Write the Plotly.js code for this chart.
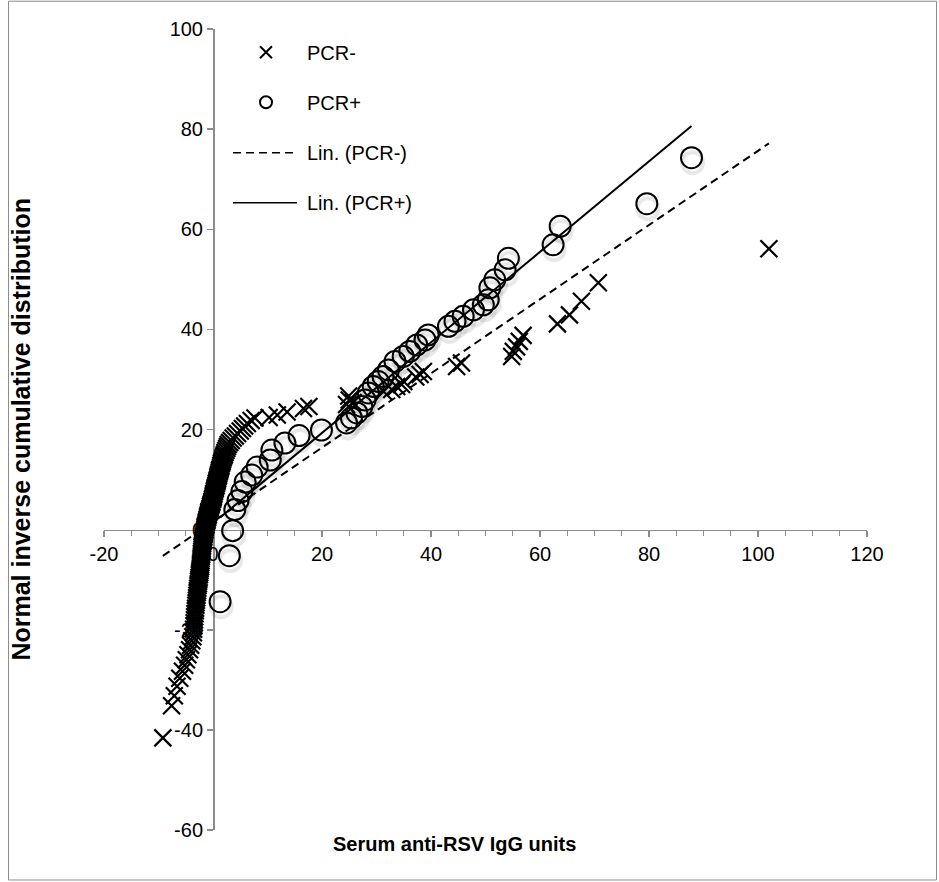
<!DOCTYPE html>
<html>
<head>
<meta charset="utf-8">
<script src="https://cdn.plot.ly/plotly-3.0.1.min.js"></script>
<style>
  html, body { margin: 0; padding: 0; background: #fff; }
  #chart { width: 939px; height: 882px; }
</style>
</head>
<body>
<div id="chart"></div>
<script>
// ---------- data ----------
const seriesNames = ["PCR-", "PCR+", "Lin. (PCR-)", "Lin. (PCR+)"];

const negX = [
  -9.2, -7.6, -7.1, -6.6, -6.1, -5.6, -5.2, -4.9, -4.6, -4.3, -4.1, -3.9, -3.7, -3.6,
  -3.55, -3.5, -3.45, -3.4, -3.35, -3.3, -3.25, -3.2, -3.15, -3.1, -3.05, -3.0, -2.95, -2.9,
  -2.85, -2.8, -2.75, -2.7, -2.65, -2.6, -2.55, -2.5, -2.45, -2.4, -2.35, -2.3, -2.3, -2.25,
  -2.2, -2.2, -2.15, -2.1, -2.1, -2.05, -2.0, -2.0, -1.95, -1.9, -1.85, -1.8, -1.75, -1.7,
  -1.65, -1.6, -1.55, -1.5, -1.45, -1.4, -1.3, -1.25, -1.15, -1.1, -1.0, -0.95, -0.85, -0.8,
  -0.7, -0.6, -0.5, -0.45, -0.35, -0.25, -0.2, -0.1, 0.0, 0.05, 0.1, 0.15, 0.25, 0.3,
  0.4, 0.45, 0.55, 0.6, 0.7, 0.75, 0.85, 0.9, 1.0, 1.05, 1.15, 1.2, 1.3, 1.4,
  1.45, 1.55, 1.65, 1.75, 1.85, 2.0, 2.1, 2.2, 2.35, 2.5, 2.65, 2.8, 3.05, 3.35,
  3.7, 4.1, 4.5, 5.0, 5.4, 5.8, 6.3, 7.0, 7.7,
  10.3, 11.8, 13.6, 16.6, 17.6,
  24.5, 25.0, 25.7, 24.9,
  31.3, 32.8, 33.7, 34.6, 35.0, 37.2, 38.0, 38.6,
  44.7, 45.6,
  54.8, 55.1, 55.7, 56.2, 56.9,
  63.2, 65.4, 67.6, 70.7,
  102.0
];
const negY = [
  -41.6, -35.2, -33.2, -31.3, -29.7, -28.3, -27.1, -26.0, -25.0, -24.0, -23.1, -22.2, -21.4, -20.6,
  -19.9, -19.2, -18.6, -18.0, -17.4, -16.8, -16.2, -15.7, -15.1, -14.6, -14.1, -13.6, -13.1, -12.6,
  -12.2, -11.7, -11.2, -10.8, -10.3, -9.9, -9.5, -9.0, -8.6, -8.2, -7.8, -7.4, -7.0, -6.6,
  -6.2, -5.8, -5.4, -5.0, -4.7, -4.3, -3.9, -3.5, -3.2, -2.8, -2.4, -2.1, -1.7, -1.4,
  -1.0, -0.7, -0.3, 0.0, 0.4, 0.7, 1.0, 1.4, 1.7, 2.0, 2.4, 2.7, 3.0, 3.4,
  3.7, 4.0, 4.3, 4.7, 5.0, 5.3, 5.6, 6.0, 6.3, 6.6, 6.9, 7.2, 7.6, 7.9,
  8.2, 8.5, 8.8, 9.2, 9.5, 9.8, 10.1, 10.5, 10.8, 11.1, 11.5, 11.8, 12.1, 12.5,
  12.8, 13.2, 13.5, 13.9, 14.3, 14.7, 15.0, 15.4, 15.8, 16.2, 16.6, 17.0, 17.4, 17.8,
  18.3, 18.7, 19.2, 19.7, 20.2, 20.7, 21.2, 21.8, 22.3,
  22.4, 22.9, 23.5, 24.2, 24.6,
  25.0, 25.9, 25.4, 26.7,
  27.6, 28.0, 28.6, 29.0, 29.6, 30.5, 31.0, 31.6,
  32.6, 33.3,
  34.6, 35.6, 36.5, 37.6, 38.8,
  41.1, 42.9, 45.6, 49.3,
  56.1
];

const posX = [1.3, 3.0, 3.6, 4.0, 4.6, 5.3, 5.9, 7.1, 8.1, 10.5, 10.8, 13.2, 15.8, 19.9,
  24.5, 25.4, 26.4, 27.3, 27.9, 28.5, 29.4, 30.3, 31.2, 32.2, 33.4, 34.9, 36.1, 37.4,
  38.9, 39.5, 43.2, 44.4, 45.9, 47.8, 49.6, 50.5, 50.8, 51.7, 53.6, 54.2, 62.4, 63.7,
  79.6, 87.8];
const posY = [-14.4, -5.2, -0.2, 4.0, 5.8, 7.6, 9.5, 10.9, 12.5, 13.9, 15.9, 17.3, 18.8, 19.9,
  21.3, 22.3, 23.3, 24.6, 25.9, 27.3, 28.6, 29.6, 30.6, 31.9, 33.6, 34.6, 35.6, 36.9,
  37.9, 38.9, 40.6, 41.6, 42.6, 43.9, 44.9, 45.9, 48.3, 49.9, 51.9, 54.2, 56.9, 60.6,
  65.1, 74.3];

// linear trendline coefficients (slope, intercept)
const trendNeg = [0.741, 1.57];
const trendPos = [0.904, 1.24];

const xTickVals = [-20, 0, 20, 40, 60, 80, 100, 120];
const xTickText = ["-20", "0", "20", "40", "60", "80", "100", "120"];
const yTickVals = [-60, -40, -20, 0, 20, 40, 60, 80, 100];
const yTickText = ["-60", "-40", "-20", "0", "20", "40", "60", "80", "100"];

// trendline over each series' x-range
function trendLine(xs, coef) {
  const x0 = Math.min(...xs), x1 = Math.max(...xs);
  return { x: [x0, x1], y: [coef[1] + coef[0] * x0, coef[1] + coef[0] * x1] };
}
const fitNeg = trendLine(negX, trendNeg);
const fitPos = trendLine(posX, trendPos);

// ---------- geometry ----------
const W = 939, H = 882;
const M = { l: 104, r: 72, t: 29.3, b: 51.5 };
const PW = W - M.l - M.r, PH = H - M.t - M.b;
const px2x = px => (px - M.l) / PW;
const py2y = py => 1 - (py - M.t) / PH;
const xRange = [-20, 120], yRange = [-60, 100];

const FONT = "Liberation Sans, Arial, sans-serif";
const AXC = "#8c8c8c";

// soft drop shadow under the open circles (style effect of the original)
const shadowDX = 0.2, shadowDY = -1.0;
const SHADOW = "rgba(0,0,0,0.09)";

const traces = [
  { x: posX.map(v => v + shadowDX), y: posY.map(v => v + shadowDY), type: "scatter", mode: "markers",
    showlegend: false, hoverinfo: "skip",
    marker: { symbol: "circle-open", size: 21, color: SHADOW, line: { color: SHADOW, width: 4 } } },
  { x: negX, y: negY, name: seriesNames[0], type: "scatter", mode: "markers", legendgroup: "a",
    marker: { symbol: "x-thin-open", size: 17, line: { color: "#000", width: 2.2 }, color: "#000" } },
  { x: posX, y: posY, name: seriesNames[1], type: "scatter", mode: "markers", legendgroup: "b",
    marker: { symbol: "circle-open", size: 21, line: { color: "#000", width: 2 }, color: "#000" } },
  { x: fitNeg.x, y: fitNeg.y, name: seriesNames[2], type: "scatter", mode: "lines", legendgroup: "c",
    line: { color: "#000", width: 2, dash: "8px,5px" } },
  { x: fitPos.x, y: fitPos.y, name: seriesNames[3], type: "scatter", mode: "lines", legendgroup: "d",
    line: { color: "#000", width: 2 } }
];

const axisCommon = {
  showline: true, linecolor: AXC, linewidth: 1.5,
  ticks: "outside", ticklen: 6, tickwidth: 1.5, tickcolor: AXC,
  showgrid: false, zeroline: false,
  tickfont: { family: FONT, size: 20, color: "#000" },
  layer: "below traces", anchor: "free", fixedrange: true
};

const layout = {
  width: W, height: H,
  margin: M,
  paper_bgcolor: "#fff", plot_bgcolor: "#fff",
  font: { family: FONT, size: 20, color: "#000" },
  showlegend: true,
  legend: {
    x: px2x(225), y: py2y(33), xanchor: "left", yanchor: "top",
    bgcolor: "rgba(0,0,0,0)", borderwidth: 0,
    font: { family: FONT, size: 20, color: "#000" },
    tracegroupgap: 21, itemsizing: "constant", itemwidth: 72
  },
  xaxis: Object.assign({}, axisCommon, {
    range: xRange, tickvals: xTickVals, ticktext: xTickText,
    position: (0 - yRange[0]) / (yRange[1] - yRange[0]),
    minor: { dtick: 5, tick0: 0, ticks: "outside", ticklen: 5, tickcolor: AXC, tickwidth: 1.2 }
  }),
  yaxis: Object.assign({}, axisCommon, {
    range: yRange, tickvals: yTickVals, ticktext: yTickText,
    position: (0 - xRange[0]) / (xRange[1] - xRange[0])
  }),
  annotations: [
    { text: "Serum anti-RSV IgG units", xref: "paper", yref: "paper",
      x: px2x(454), y: py2y(845), xanchor: "center", yanchor: "middle", showarrow: false,
      font: { family: FONT, size: 20, color: "#000", weight: 700 } },
    { text: "Normal inverse cumulative distribution", xref: "paper", yref: "paper",
      x: px2x(21), y: py2y(430), xanchor: "center", yanchor: "middle", showarrow: false, textangle: -90,
      font: { family: FONT, size: 25, color: "#000", weight: 700 } }
  ],
  shapes: [
    { type: "rect", xref: "paper", yref: "paper", x0: px2x(8.5), x1: px2x(936.5), y0: py2y(880.5), y1: py2y(1.5),
      line: { color: AXC, width: 1 }, layer: "below" }
  ]
};

Plotly.newPlot("chart", traces, layout, { staticPlot: true, displayModeBar: false }).then(gd => {
  // lengthen legend line samples and centre the marker samples like the reference legend
  gd.querySelectorAll(".legend .traces").forEach(tr => {
    const t = tr.querySelector("text.legendtext");
    if (!t) return;
    const tx = parseFloat(t.getAttribute("x"));
    if (!isFinite(tx)) return;
    tr.querySelectorAll(".legendlines path").forEach(p => {
      p.setAttribute("d", "M" + (tx - 74) + ",0.5h64");
      p.style.strokeWidth = "1.6px";
    });
    tr.querySelectorAll(".legendpoints path.scatterpts").forEach(p => p.setAttribute("transform", "translate(" + (tx - 41) + ",0)"));
  });
});
</script>
</body>
</html>
